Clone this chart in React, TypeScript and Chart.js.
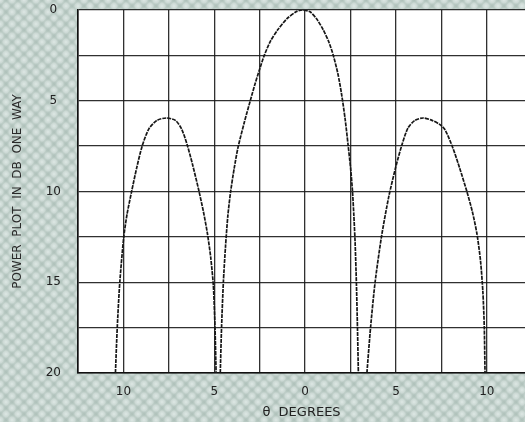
import React, { useEffect, useRef } from "react";
import { Chart, registerables } from "chart.js";
Chart.register(...registerables);

// Left side lobe (theta in degrees, power in dB, one way)
const leftLobeTheta = [-10.44, -10.34, -10.2, -9.98, -9.8, -9.55, -9.27, -8.97, -8.6, -8.15, -7.64, -7.14, -6.8, -6.5, -6.2, -5.86, -5.6, -5.38, -5.2, -5.05, -4.96, -4.9];
const leftLobeDb = [20, 17.5, 15, 12.5, 11.25, 10, 8.7, 7.5, 6.55, 6.08, 5.95, 6.08, 6.55, 7.4, 8.5, 9.9, 11.1, 12.3, 13.6, 15.2, 17.5, 20];

// Main lobe
const mainLobeTheta = [-4.67, -4.6, -4.5, -4.38, -4.25, -4.1, -3.9, -3.7, -3.35, -3.02, -2.75, -2.5, -2.25, -1.9, -1.5, -1.0, -0.5, -0.15, 0.27, 0.64, 1.0, 1.3, 1.55, 1.8, 2.0, 2.2, 2.36, 2.5, 2.6, 2.68, 2.75, 2.82, 2.88, 2.93];
const mainLobeDb = [20, 17.5, 15, 13, 11.3, 10, 8.7, 7.6, 6.2, 5.0, 4.05, 3.25, 2.5, 1.7, 1.08, 0.48, 0.1, 0, 0.1, 0.5, 1.1, 1.75, 2.5, 3.5, 4.6, 6.0, 7.4, 8.7, 9.9, 11.3, 12.8, 15, 17.5, 20];

// Right side lobe
const rightLobeTheta = [3.4, 3.6, 3.85, 4.2, 4.6, 5.0, 5.35, 5.66, 6.04, 6.5, 6.98, 7.4, 7.7, 8.13, 8.5, 8.9, 9.2, 9.45, 9.65, 9.78, 9.86, 9.9];
const rightLobeDb = [20, 17.5, 15, 12.5, 10.3, 8.6, 7.35, 6.5, 6.08, 5.95, 6.08, 6.3, 6.6, 7.6, 8.7, 10, 11.1, 12.3, 13.8, 15.5, 17.5, 20];

// Axes
const xGridValues = [-12.5, -10, -7.5, -5, -2.5, 0, 2.5, 5, 7.5, 10];
const xLabelValues = [-10, -5, 0, 5, 10];
const xLabelTexts = ["10", "5", "0", "5", "10"];
const yGridValues = [0, 2.5, 5, 7.5, 10, 12.5, 15, 17.5, 20];
const yLabelValues = [0, 5, 10, 15, 20];
const yLabelTexts = ["0", "5", "10", "15", "20"];

const xTitle = "θ  DEGREES";
const yTitle = "POWER  PLOT  IN  DB  ONE  WAY";

const toPoints = (xs: number[], ys: number[]) => xs.map((x, i) => ({ x, y: ys[i] }));

const LINE = "#161616";
const GRID = "rgba(25,25,25,0.9)";
const FONT = "'DejaVu Sans', 'Liberation Sans', sans-serif";

function makePattern(): CanvasPattern | string {
  const n = 12;
  const c = document.createElement("canvas");
  c.width = n;
  c.height = n;
  const g = c.getContext("2d");
  if (!g) return "#bccbc6";
  g.fillStyle = "#b0c2bb";
  g.fillRect(0, 0, n, n);
  const spot = (cx: number, cy: number) => {
    const grad = g.createRadialGradient(cx, cy, 0, cx, cy, 6);
    grad.addColorStop(0, "rgba(222,232,229,1)");
    grad.addColorStop(0.5, "rgba(210,222,218,0.8)");
    grad.addColorStop(1, "rgba(176,194,187,0)");
    g.fillStyle = grad;
    g.fillRect(0, 0, n, n);
  };
  spot(6, 6);
  spot(0, 0);
  spot(12, 0);
  spot(0, 12);
  spot(12, 12);
  const p = g.createPattern(c, "repeat");
  return p || "#bccbc6";
}

const backgroundPlugin = {
  id: "paperBackground",
  beforeDraw(chart: any) {
    const { ctx, width, height, chartArea } = chart;
    ctx.save();
    ctx.fillStyle = makePattern();
    ctx.fillRect(0, 0, width, height);
    ctx.fillStyle = "#ffffff";
    ctx.fillRect(chartArea.left, chartArea.top, chartArea.right - chartArea.left, chartArea.bottom - chartArea.top);
    ctx.restore();
  },
};

export default function App() {
  const ref = useRef<HTMLCanvasElement | null>(null);

  useEffect(() => {
    if (!ref.current) return;
    const lineStyle = {
      borderColor: LINE,
      borderWidth: 1.7,
      borderDash: [4, 1],
      pointRadius: 0,
      showLine: true,
      fill: false,
      tension: 0.25,
    };
    const chart = new Chart(ref.current, {
      type: "scatter",
      data: {
        datasets: [
          { label: "left", data: toPoints(leftLobeTheta, leftLobeDb), ...lineStyle },
          { label: "main", data: toPoints(mainLobeTheta, mainLobeDb), ...lineStyle },
          { label: "right", data: toPoints(rightLobeTheta, rightLobeDb), ...lineStyle },
        ],
      },
      options: {
        animation: false,
        responsive: false,
        events: [],
        layout: { padding: { top: 10, left: 0, right: 0, bottom: 0 } },
        plugins: { legend: { display: false }, tooltip: { enabled: false } },
        scales: {
          x: {
            type: "linear",
            min: -12.5,
            max: 12.1,
            afterBuildTicks: (s: any) => {
              s.ticks = xGridValues.map((v) => ({ value: v }));
            },
            afterFit: (s: any) => {
              s.height = 49;
              s.paddingLeft = 0;
              s.paddingRight = 0;
            },
            grid: { color: GRID, lineWidth: 1.3, drawTicks: false },
            border: { color: "#111", width: 1.6 },
            ticks: {
              autoSkip: false,
              maxRotation: 0,
              padding: 12,
              color: "#222",
              font: { family: FONT, size: 12 },
              callback: (v: any) => {
                const i = xLabelValues.indexOf(Number(v));
                return i >= 0 ? xLabelTexts[i] : "";
              },
            },
            title: {
              display: true,
              text: xTitle,
              color: "#222",
              font: { family: FONT, size: 13 },
              padding: { top: 0, bottom: 2 },
            },
          },
          y: {
            type: "linear",
            reverse: true,
            min: 0,
            max: 20,
            afterBuildTicks: (s: any) => {
              s.ticks = yGridValues.map((v) => ({ value: v }));
            },
            afterFit: (s: any) => {
              s.width = 78;
              s.paddingTop = 0;
              s.paddingBottom = 0;
            },
            grid: { color: GRID, lineWidth: 1.3, drawTicks: false },
            border: { color: "#111", width: 1.6 },
            ticks: {
              autoSkip: false,
              crossAlign: "center",
              padding: 17,
              color: "#222",
              font: { family: FONT, size: 12 },
              callback: (v: any) => {
                const i = yLabelValues.indexOf(Number(v));
                return i >= 0 ? yLabelTexts[i] : "";
              },
            },
            title: {
              display: true,
              text: yTitle,
              color: "#2a2a2a",
              font: { family: FONT, size: 12 },
              padding: { top: 11, bottom: 0 },
            },
          },
        },
      },
      plugins: [backgroundPlugin],
    });
    return () => chart.destroy();
  }, []);

  return (
    <div style={{ position: "fixed", left: 0, top: 0, width: 525, height: 422, overflow: "hidden" }}>
      <canvas ref={ref} width={525} height={422} style={{ display: "block", width: 525, height: 422 }} />
    </div>
  );
}
